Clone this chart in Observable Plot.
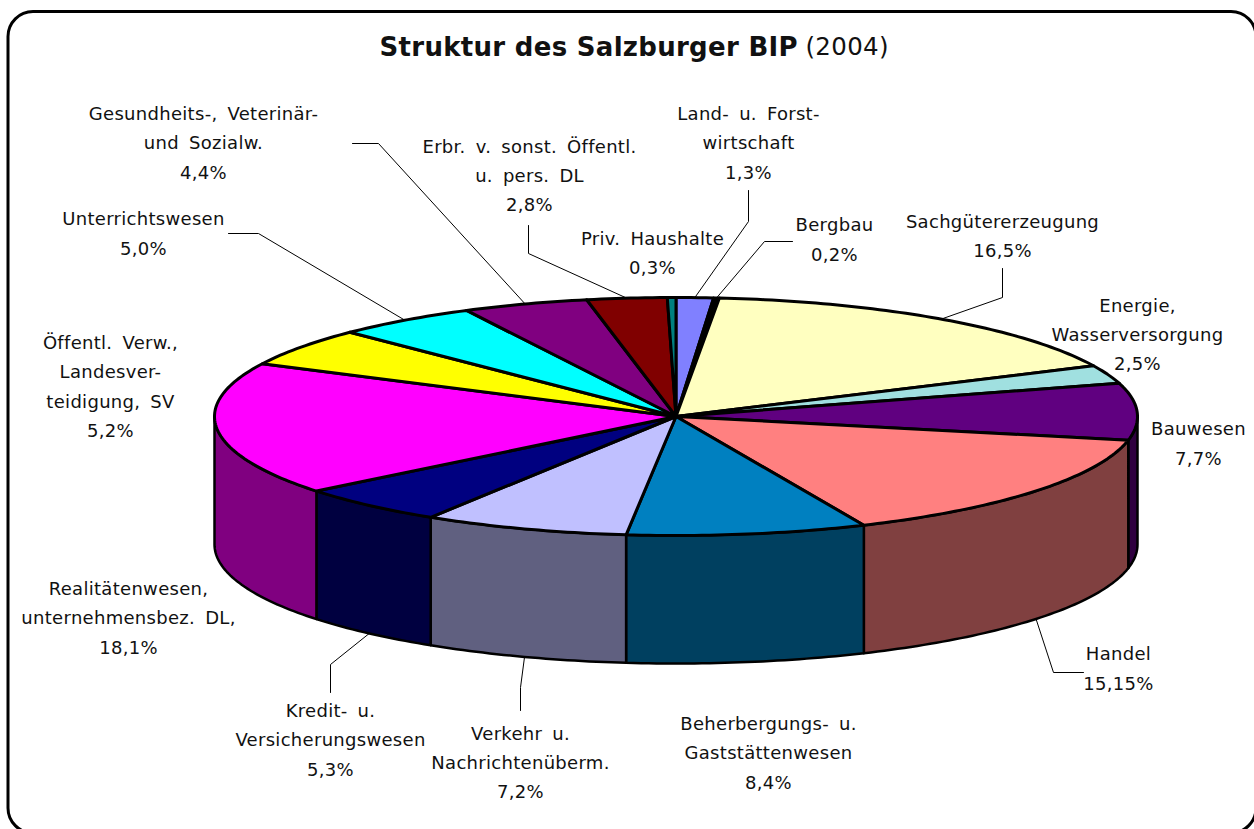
<!DOCTYPE html>
<html>
<head>
<meta charset="utf-8">
<style>html,body{margin:0;padding:0;background:#fff;overflow:hidden}svg{display:block}.lbl{word-spacing:4px}</style>
<script src="https://cdn.jsdelivr.net/npm/d3@7"></script>
<script src="https://cdn.jsdelivr.net/npm/@observablehq/plot@0.6"></script>
</head>
<body>
<div id="chart"></div>
<script>
const categories = ["Land- u. Forst-\nwirtschaft","Bergbau","Sachgütererzeugung","Energie,\nWasserversorgung","Bauwesen","Handel","Beherbergungs- u.\nGaststättenwesen","Verkehr u.\nNachrichtenüberm.","Kredit- u.\nVersicherungswesen","Realitätenwesen,\nunternehmensbez. DL,","Öffentl. Verw.,\nLandesver-\nteidigung, SV","Unterrichtswesen","Gesundheits-, Veterinär-\nund Sozialw.","Erbr. v. sonst. Öffentl.\nu. pers. DL","Priv. Haushalte"];
const shares = [1.3,0.2,16.5,2.5,7.7,15.15,8.4,7.2,5.3,18.1,5.2,5.0,4.4,2.8,0.3];
const shareLabels = ["1,3%","0,2%","16,5%","2,5%","7,7%","15,15%","8,4%","7,2%","5,3%","18,1%","5,2%","5,0%","4,4%","2,8%","0,3%"];
const topColors = ["#8080ff","#000000","#ffffc0","#a0e0e0","#600080","#ff8080","#0080c0","#c0c0ff","#000080","#ff00ff","#ffff00","#00ffff","#800080","#800000","#008080"];
const sideColors = ["#404080","#000000","#808060","#507070","#300040","#804040","#004060","#606080","#000040","#800080","#808000","#008080","#400040","#400000","#004040"];

// layout of the drawing
const W = 1254, H = 829, cx = 675.5, cy = 416, rx = 461.5, ry = 119, depth = 128;
const FONT = '"DejaVu Sans", sans-serif', LABEL_SIZE = 18;
// label centres, and the elbow + tail of the leader line for those that have one
const labelAt = [[748,143.5],[834,240],[1002,236.5],[1137,335],[1198,444],[1118,669],[768,753.5],[520,763],[330,740.5],[128,618.5],[110,387],[143,234],[203,143.5],[529,176],[652,253.5]];
const leaders = {
  0:[[748,221],[748,190]], 1:[[764,241],[792,241]], 2:[[1002,297],[1002,268]], 5:[[1053,672],[1083,672]],
  7:[[520,687],[520,710]], 8:[[330,664],[330,692]], 11:[[258,233],[228,233]], 12:[[378,143],[352,143]], 13:[[528,253],[528,225]]
};

const total = d3.sum(shares);
const cum = d3.cumsum(shares);
const angle = p => p / total * 2 * Math.PI;
const slices = shares.map((v,i) => ({i, a0: angle(cum[i]-v), a1: angle(cum[i]), mid: angle(cum[i]-v/2)}));
const ex = a => cx + rx*Math.sin(a), ey = a => cy - ry*Math.cos(a);
const arc = (a0,a1,dy=0) => { const n = Math.max(2, Math.ceil((a1-a0)*60)); return d3.range(n+1).map(k => { const a = a0+(a1-a0)*k/n; return {x:ex(a), y:ey(a)+dy}; }); };

const topPts = slices.flatMap(s => {
  const pts = [{x:cx,y:cy}, ...arc(s.a0,s.a1), {x:cx,y:cy}];
  return pts.map(p => ({...p, key:s.i, fill:topColors[s.i]}));
});
const sidePts = slices.flatMap(s => {
  const a0 = Math.max(s.a0, Math.PI/2), a1 = Math.min(s.a1, 3*Math.PI/2);
  if (a1 <= a0) return [];
  const t = arc(a0,a1), b = arc(a0,a1,depth).reverse();
  return [...t, ...b, t[0]].map(p => ({...p, key:s.i, fill:sideColors[s.i]}));
});
const leaderPts = Object.entries(leaders).flatMap(([k,rest]) => {
  const s = slices[+k], onWall = s.mid > Math.PI/2 && s.mid < 3*Math.PI/2;
  return [{x:ex(s.mid), y:ey(s.mid)+(onWall?depth:0), key:k}, ...rest.map(([x,y]) => ({x,y,key:k}))];
});
const labels = categories.map((c,i) => ({text:c+"\n"+shareLabels[i], x:labelAt[i][0], y:labelAt[i][1]-4}));

const plot = Plot.plot({
  width:W, height:H, margin:0,
  style:{letterSpacing:"0.3px"},
  x:{domain:[0,W], range:[0,W], axis:null},
  y:{domain:[0,H], range:[0,H], axis:null},
  color:{type:"identity"},
  marks:[
    Plot.rect([{x1:8,x2:1256,y1:11.5,y2:833}],{x1:"x1",x2:"x2",y1:"y1",y2:"y2",rx:25,fill:"white",stroke:"black",strokeWidth:3}),
    Plot.line(leaderPts,{x:"x",y:"y",z:"key",stroke:"black",strokeWidth:1,curve:"linear"}),
    Plot.line(sidePts,{x:"x",y:"y",z:"key",fill:"fill",stroke:"black",strokeWidth:2.5,strokeLinejoin:"round",curve:"linear"}),
    Plot.line(topPts,{x:"x",y:"y",z:"key",fill:"fill",stroke:"black",strokeWidth:3,strokeLinejoin:"round",curve:"linear"}),
    Plot.text(labels,{x:"x",y:"y",text:"text",fontSize:LABEL_SIZE,lineHeight:29.3/LABEL_SIZE,fontFamily:FONT,fill:"#111",className:"lbl"}),
    Plot.text(["Struktur des Salzburger BIP"],{x:()=>379,y:()=>47,text:d=>d,textAnchor:"start",fontSize:26,fontWeight:"bold",fontFamily:FONT,fill:"#111"}),
    Plot.text(["(2004)"],{x:()=>805,y:()=>47,text:d=>d,textAnchor:"start",fontSize:24.5,fontFamily:FONT,fill:"#111"})
  ]
});
document.getElementById("chart").append(plot);
</script>
</body>
</html>
